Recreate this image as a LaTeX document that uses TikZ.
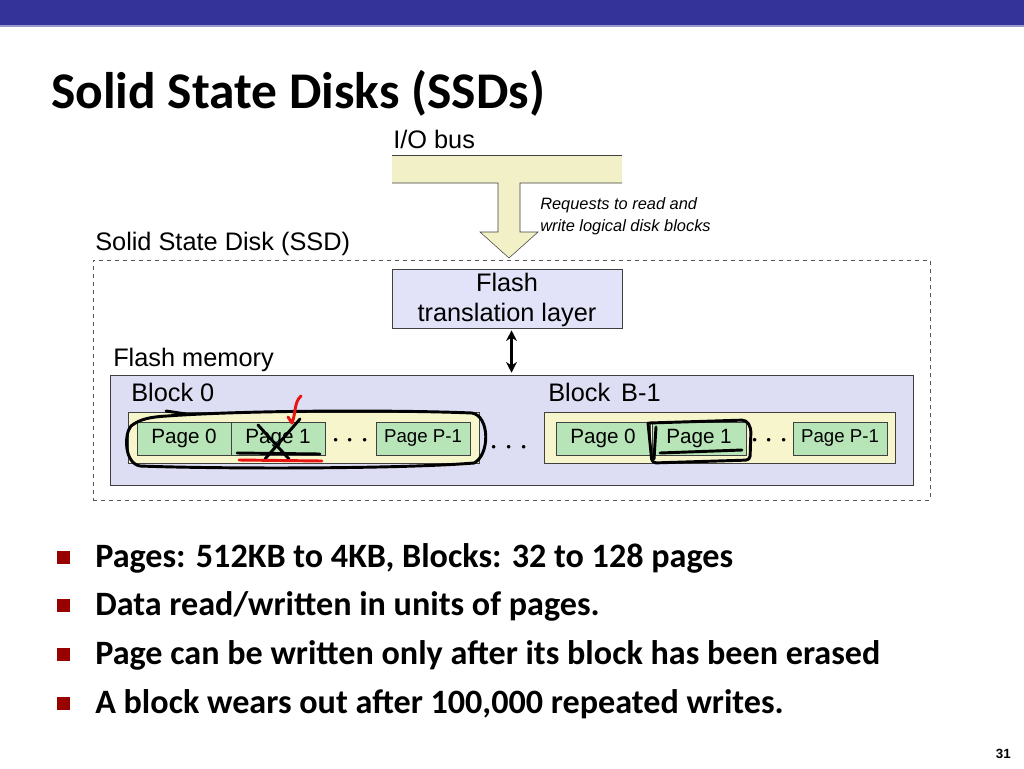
\documentclass[tikz,border=0pt]{standalone}
\usepackage{fontspec}
\setmainfont{Liberation Sans}
\newfontfamily\slidefont{Carlito}
\usepackage{xcolor}
\usepackage{tikz}
\usetikzlibrary{arrows.meta,positioning,calc}
\definecolor{BarNavy}{HTML}{333399}
\definecolor{BarRule}{HTML}{9999CC}
\definecolor{BusYellow}{HTML}{F2F0C6}
\definecolor{BlockYellow}{HTML}{F7F5CB}
\definecolor{FtlLavender}{HTML}{E2E2F8}
\definecolor{MemLavender}{HTML}{DDDDF3}
\definecolor{PageGreen}{HTML}{B7E5B7}
\definecolor{BulletRed}{HTML}{990000}
\definecolor{EdgeGrey}{HTML}{404040}
\definecolor{InkRed}{HTML}{E81414}

\begin{document}
\begin{tikzpicture}[
  x=0.75pt,y=-0.75pt,
  tag/.style={anchor=base west,inner sep=0,font=\fontsize{19}{22}\selectfont},
  blockbox/.style={draw=EdgeGrey,fill=BlockYellow,minimum width=263pt,minimum height=38.25pt,inner sep=0},
  pagebox/.style={draw=EdgeGrey,fill=PageGreen,minimum width=70.5pt,minimum height=24.75pt,inner sep=0,font=\fontsize{15.5}{18}\selectfont},
  dots/.style={inner sep=0,font=\fontsize{26}{30}\selectfont},
  item/.style={anchor=base west,inner sep=0,font=\slidefont\bfseries\fontsize{25.6}{30}\selectfont},
  ink/.style={line width=2.2pt,line cap=round,line join=round}
]
\useasboundingbox (0,0) rectangle (1024,768);
\fill[BarNavy] (0,0) rectangle (1024,25);
\fill[BarRule] (0,25) rectangle (1024,27);

\node[anchor=base west,inner sep=0,font=\slidefont\bfseries\fontsize{38.6}{44}\selectfont] (title) at (51,108) {Solid State Disks (SSDs)};

% bus and request arrow
\node[tag] (iobus) at (393,148) {I/O bus};
\coordinate (busNW) at (392,155);
\coordinate (busSE) at (622,183);
\fill[BusYellow] (busNW) rectangle (busSE);
\draw[EdgeGrey] (busNW) -- (busNW -| busSE);
\filldraw[fill=BusYellow,draw=EdgeGrey] (busNW |- busSE) -- (498,183) -- (498,232) -- (480,232)
  -- (509,258) -- (538,232) -- (520,232) -- (520,183) -- (busSE);
\node[anchor=north west,inner sep=0,align=left,font=\itshape\fontsize{12.3}{16.5}\selectfont] (req) at (540,197)
  {Requests to read and\\write logical disk blocks};

% the disk
\node[tag] (ssdlabel) at (95,250) {Solid State Disk (SSD)};
\node[draw=EdgeGrey!90,dashed,minimum width=627.75pt,minimum height=180pt,inner sep=0] (ssd) at (511.5,380) {};
\node[draw=EdgeGrey,fill=FtlLavender,minimum width=172.5pt,minimum height=44.25pt,inner sep=0,align=center,
  font=\fontsize{19}{23}\selectfont] (ftl) at (507,298.5) {\rule{0pt}{16pt}Flash\\translation layer};
\node[tag] (fmlabel) at (113,366) {Flash memory};
\node[draw=EdgeGrey,fill=MemLavender,minimum width=602.25pt,minimum height=82.5pt,inner sep=0] (fm) at (511.5,430) {};
\draw[{Stealth[length=8pt,width=8pt]}-{Stealth[length=8pt,width=8pt]},line width=2pt,shorten <=1.5pt,shorten >=1.5pt]
  (fm.north |- ftl.south) -- (fm.north);

% blocks and pages
\node[tag] (blk0label) at (131,401) {Block 0};
\node[tag] (blk1label) at (548,401) {Block\hspace{3pt} B-1};
\node[blockbox] (blk0) at (304,437.5) {};
\node[blockbox] (blk1) at (720,437.5) {};
\foreach \nm/\x/\txt in {b0p0/184/Page 0,b0p1/278/Page 1,b1p0/603/Page 0,b1p1/699/Page 1}
  \node[pagebox] (\nm) at (\x,438.5) {\txt};
\foreach \nm/\x in {b0last/423,b1last/840}
  \node[pagebox,font=\fontsize{14}{16}\selectfont] (\nm) at (\x,438.5) {Page P-1};
\node[dots] (dots0) at ($(b0p1.east)!0.5!(b0last.west)+(0,3)$) {$\cdots$};
\node[dots] (dots1) at ($(b1p1.east)!0.5!(b1last.west)+(0,3)$) {$\cdots$};
\node[dots] (dotsmid) at ($(blk0.east)!0.5!(blk1.west)+(-3,11)$) {$\cdots$};

% hand-drawn marks
\draw[ink] (167,416) .. controls (250,410) and (400,410) .. (472,413)
  .. controls (490,416) and (490,455) .. (474,463)
  .. controls (400,469) and (220,469) .. (140,466)
  .. controls (124,463) and (124,434) .. (131,426)
  .. controls (140,419) and (150,417) .. (167,416);
\draw[ink] (166,411) -- (186,414);
\draw[ink] (258,425) -- (289,459);
\draw[ink] (300,419) -- (265,459);
\draw[ink] (237,453) -- (320,454);
\draw[ink,InkRed] (239,460) -- (322,461);
\draw[ink,InkRed] (301,396) .. controls (294,402) and (296,413) .. (292,423) -- (288,417);
\draw[ink,rounded corners=3pt] (649,423) -- (746,420) -- (751,428) -- (750,460) -- (652,463) -- (648,423);
\draw[ink] (656,427) -- (654,459);
\draw[ink] (660,453) -- (742,450);

% bullet list
\foreach \i/\y/\txt in {1/567/{Pages: 512KB to 4KB, Blocks: 32 to 128 pages},
                        2/615/{Data read/written in units of pages.},
                        3/664/{Page can be written only after its block has been erased},
                        4/713/{A block wears out after 100,000 repeated writes.}}{
  \fill[BulletRed] (57,\y-16) rectangle ++(13,13);
  \node[item] (item\i) at (95,\y) {\txt};
}
\node[anchor=base east,inner sep=0,font=\bfseries\fontsize{10}{12}\selectfont] (pageno) at (1011,758) {31};
\end{tikzpicture}
\end{document}
